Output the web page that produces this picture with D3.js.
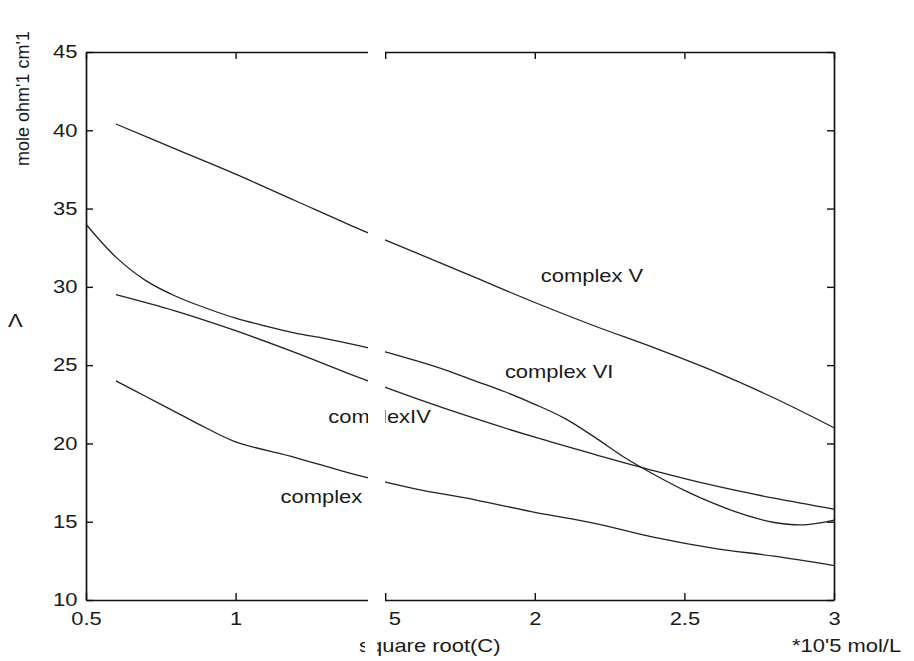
<!DOCTYPE html>
<html>
<head>
<meta charset="utf-8">
<script src="https://cdn.jsdelivr.net/npm/d3@7"></script>
<style>
  body { margin: 0; background: #fff; }
  text { font-family: "Liberation Sans", Arial, sans-serif; fill: #1a1a1a; }
</style>
</head>
<body>
<div id="chart"></div>
<script>
/* molar conductivity vs square root of concentration */

// data
var xV = [0.6, 0.8, 1.0, 1.2, 1.4, 1.6, 1.8, 2.0, 2.2, 2.4, 2.6, 2.8, 3.0];
var complexV = [40.4, 38.8, 37.2, 35.5, 33.8, 32.2, 30.6, 29.0, 27.5, 26.1, 24.6, 22.9, 21.0];

var xVI = [0.5, 0.6, 0.7, 0.8, 0.9, 1.0, 1.1, 1.2, 1.3, 1.4, 1.5, 1.6, 1.7, 1.8, 1.9, 2.0, 2.1, 2.2, 2.3, 2.4, 2.5, 2.6, 2.7, 2.8, 2.9, 3.0];
var complexVI = [34.0, 31.9, 30.4, 29.4, 28.65, 28.0, 27.5, 27.05, 26.7, 26.3, 25.85, 25.3, 24.7, 24.0, 23.3, 22.5, 21.6, 20.4, 19.1, 18.0, 17.0, 16.15, 15.45, 14.95, 14.8, 15.1];

var xIV = [0.6, 0.8, 1.0, 1.2, 1.4, 1.6, 1.8, 2.0, 2.2, 2.4, 2.6, 2.8, 3.0];
var complexIV = [29.5, 28.45, 27.2, 25.8, 24.3, 22.9, 21.6, 20.4, 19.3, 18.25, 17.3, 16.5, 15.8];

var xIII = [0.6, 0.7, 0.8, 0.9, 1.0, 1.2, 1.4, 1.6, 1.8, 2.0, 2.2, 2.4, 2.6, 2.8, 3.0];
var complexIII = [24.0, 23.0, 22.0, 21.0, 20.1, 19.1, 18.0, 17.1, 16.4, 15.6, 14.9, 14.0, 13.3, 12.8, 12.2];

var xTicks = [0.5, 1, 1.5, 2, 2.5, 3];
var yTicks = [10, 15, 20, 25, 30, 35, 40, 45];

var seriesLabels = [
  {name: "complex V", x: 2.02, y: 30.3},
  {name: "complex VI", x: 1.9, y: 24.2},
  {name: "complexIV", x: 1.31, y: 21.3},
  {name: "complex III", x: 1.15, y: 16.2}
];

var W = 914, H = 661;
var margin = {top: 52, right: 80, bottom: 61, left: 86},
w = W - margin.left - margin.right,
h = H - margin.top - margin.bottom;
var sx = 1.22; // scan is stretched sideways

var svg = d3.select("#chart").append("svg")
  .attr("width", W).attr("height", H);
var g = svg.append("g")
  .attr("transform", `translate(${margin.left},${margin.top})`);

var x = d3.scaleLinear().domain([0.5, 3]).range([0, w]);
var y = d3.scaleLinear().domain([10, 45]).range([h, 0]);

// axes, ticks pointing in
var xAxis = g.append("g").attr("transform", `translate(0,${h})`)
  .call(d3.axisBottom(x).tickValues(xTicks).tickFormat(d3.format("")).tickSizeInner(-7).tickSizeOuter(0).tickPadding(12));
var yAxis = g.append("g")
  .call(d3.axisLeft(y).tickValues(yTicks).tickSizeInner(-7).tickSizeOuter(0).tickPadding(7));
g.append("g").call(d3.axisTop(x).tickValues(xTicks).tickFormat("").tickSizeInner(-7).tickSizeOuter(0));
g.append("g").attr("transform", `translate(${w},0)`)
  .call(d3.axisRight(y).tickValues(yTicks).tickFormat("").tickSizeInner(-7).tickSizeOuter(0));

g.selectAll(".domain").attr("stroke", "#111").attr("stroke-width", 1.7);
g.selectAll(".tick line").attr("stroke", "#111").attr("stroke-width", 1.4);
g.selectAll(".tick text").attr("font-size", 18)
  .style("font-family", "'Liberation Sans', Arial, sans-serif").attr("fill", "#1a1a1a")
  .attr("transform", `scale(${sx},1)`);

// curves
var line = d3.line()
  .x(function(d) { return x(d[0]); })
  .y(function(d) { return y(d[1]); })
  .curve(d3.curveCatmullRom.alpha(0.5));

var series = [
  [xV, complexV],
  [xVI, complexVI],
  [xIV, complexIV],
  [xIII, complexIII]
];
series.forEach(function(s) {
  g.append("path")
    .datum(d3.zip(s[0], s[1]))
    .attr("fill", "none")
    .attr("stroke", "#222")
    .attr("stroke-width", 1.3)
    .attr("d", line);
});

// in-plot labels
seriesLabels.forEach(function(d) {
  g.append("text")
    .attr("transform", `translate(${x(d.x)},${y(d.y)}) scale(${sx},1)`)
    .attr("font-size", 18)
    .text(d.name);
});

// axis titles
svg.append("text")
  .attr("transform", `translate(359,652) scale(${sx},1)`)
  .attr("font-size", 18)
  .text("square root(C)");
svg.append("text")
  .attr("transform", `translate(792,652) scale(${sx},1)`)
  .attr("font-size", 18)
  .text("*10'5 mol/L");
svg.append("text")
  .attr("transform", "translate(29,166) rotate(-90)")
  .attr("font-size", 18)
  .text("mole ohm'1 cm'1");
svg.append("text")
  .attr("transform", `translate(8,327) scale(${sx},1)`)
  .attr("font-size", 18)
  .text("\u039B");

// blank strip left by the scanner
svg.append("rect")
  .attr("x", 368).attr("y", 0)
  .attr("width", 17).attr("height", 632)
  .attr("fill", "#fff");
svg.append("rect")
  .attr("x", 368).attr("y", 603)
  .attr("width", 20).attr("height", 29)
  .attr("fill", "#fff");
svg.append("rect")
  .attr("x", 365).attr("y", 632)
  .attr("width", 12).attr("height", H - 632)
  .attr("fill", "#fff");
</script>
</body>
</html>
